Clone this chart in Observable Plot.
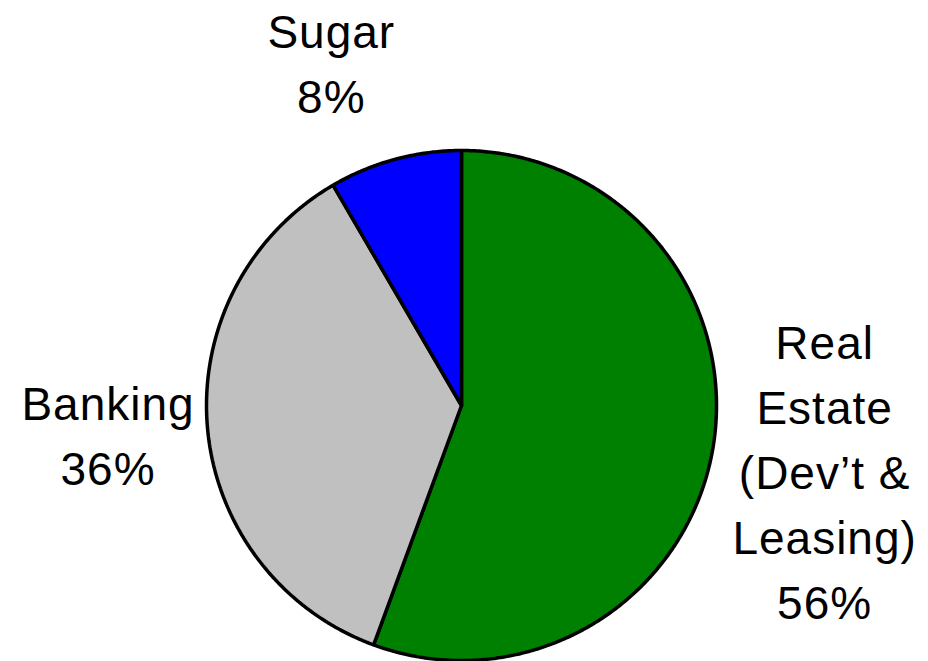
<!DOCTYPE html>
<html>
<head>
<meta charset="utf-8">
<script src="https://cdn.jsdelivr.net/npm/d3@7"></script>
<script src="https://cdn.jsdelivr.net/npm/@observablehq/plot@0.6"></script>
<style>
  html, body { margin: 0; padding: 0; background: #fff; }
</style>
</head>
<body>
<div id="chart"></div>
<script>
// ---- data ----
const categories = ["Real Estate (Dev’t & Leasing)", "Banking", "Sugar"];
const shares = [55.6, 36.0, 8.4];
const labelNames = ["Real\nEstate\n(Dev’t &\nLeasing)", "Banking", "Sugar"];
const colors = ["#008000", "#c0c0c0", "#0000ff"];

// ---- layout (not data) ----
const W = 928, H = 661;
const R = 255, CX = 461, CY = 405;           // pie centre & radius in pixels
const labelRadius = [1.445, 1.39, 1.45];     // in units of pie radius
const labelAngleNudge = [-0.3, 0.8, -5.5];   // degrees

const rows = categories.map((c, i) => ({name: c, share: shares[i], label: labelNames[i] + "\n" + Math.round(shares[i]) + "%"}));
const arcs = d3.pie().sort(null).value(d => d.share).startAngle(0).endAngle(2 * Math.PI)(rows);

// polygon outline of each slice, in unit-radius coordinates
const outline = [];
arcs.forEach(a => {
  const n = Math.max(2, Math.ceil((a.endAngle - a.startAngle) / (Math.PI / 360)));
  outline.push({name: a.data.name, x: 0, y: 0});
  for (let k = 0; k <= n; k++) {
    const t = a.startAngle + (a.endAngle - a.startAngle) * k / n;
    outline.push({name: a.data.name, x: Math.sin(t), y: Math.cos(t)});
  }
  outline.push({name: a.data.name, x: 0, y: 0});
});

const labels = arcs.map((a, i) => {
  const t = (a.startAngle + a.endAngle) / 2 + labelAngleNudge[i] * Math.PI / 180;
  return {label: a.data.label, x: labelRadius[i] * Math.sin(t), y: labelRadius[i] * Math.cos(t)};
});

const chart = Plot.plot({
  width: W,
  height: H,
  margin: 0,
  x: {domain: [-CX / R, (W - CX) / R], axis: null},
  y: {domain: [-(H - CY) / R, CY / R], axis: null},
  color: {domain: categories, range: colors},
  style: {fontFamily: "'Liberation Sans', Arial, sans-serif", background: "#fff", overflow: "visible"},
  marks: [
    Plot.line(outline, {x: "x", y: "y", z: "name", fill: "name", stroke: "#000", strokeWidth: 3.5, strokeLinejoin: "miter", curve: "linear"}),
    Plot.text(labels, {x: "x", y: "y", text: "label", fontSize: 46, lineHeight: 1.413, fill: "#000", textAnchor: "middle", lineAnchor: "middle"})
  ]
});
chart.querySelectorAll("text").forEach(t => t.style.letterSpacing = "1px");
document.getElementById("chart").appendChild(chart);
</script>
</body>
</html>
